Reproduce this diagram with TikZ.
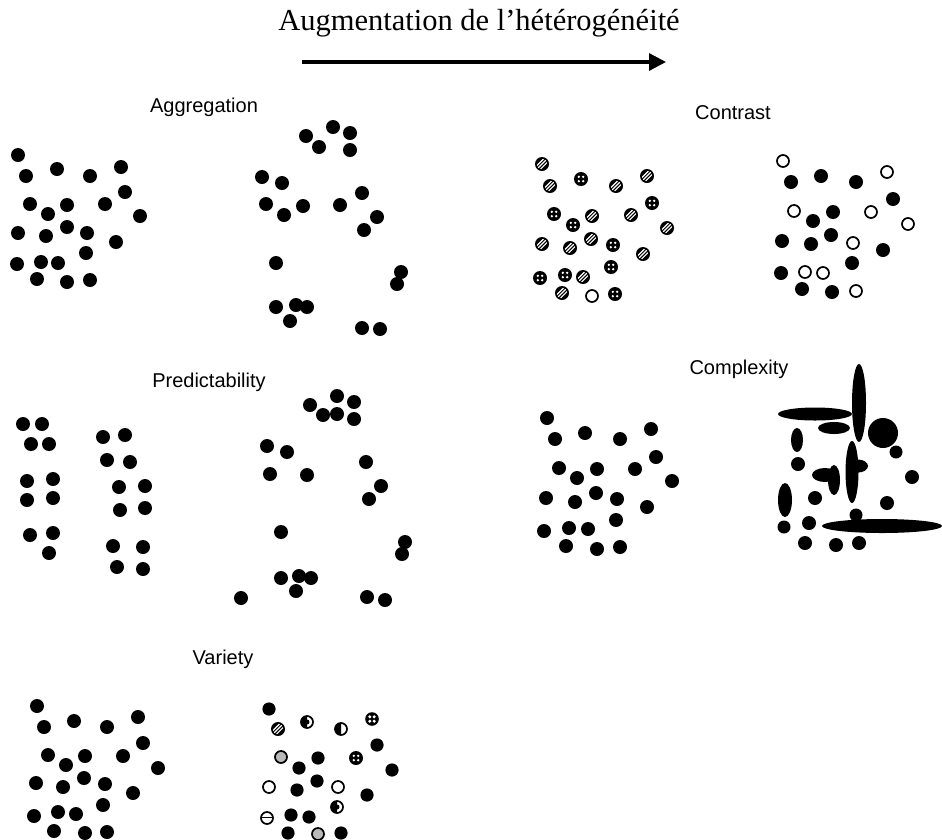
\documentclass[tikz,border=0pt]{standalone}
\usepackage{fontspec}
\setmainfont{Liberation Serif}
\newfontfamily\labelfont{Liberation Sans}
\usetikzlibrary{arrows.meta}
\tikzset{
  fdot/.pic={\fill[black] (0,0) circle (7pt);},
  sdot/.pic={\fill[black] (0,0) circle (6.6pt);},
  odot/.pic={\draw[black,line width=1.7pt,fill=white] (0,0) circle (6pt);},
  hdot/.pic={\fill[black] (0,0) circle (7pt);
    \begin{scope}\clip (0,0) circle (5.4pt);
      \foreach \o in {-1.8,0,1.8}{\draw[white,line width=1.2pt,shift={(\o pt,-\o pt)}] (-7pt,-7pt) -- (7pt,7pt);}
    \end{scope}},
  pdot/.pic={\fill[black] (0,0) circle (7pt);
    \foreach \a/\b in {-2.2/-2.2,2.2/-2.2,-2.2/2.2,2.2/2.2}{\fill[white] (\a pt,\b pt) circle (1.3pt);}},
  xdot/.pic={\fill[black] (0,0) circle (6.8pt);
    \foreach \a/\b in {-2.2/-2.2,2.2/-2.2,-2.2/2.2,2.2/2.2}{\fill[white] (\a pt,\b pt) circle (1.7pt);}},
  gdot/.pic={\draw[black,line width=1.7pt,fill=gray!55] (0,0) circle (6pt);},
  wdot/.pic={\draw[black,line width=1.7pt,fill=white] (0,0) circle (6pt);
    \fill[black] (0,0) -- (90:6pt) arc (90:270:6pt) -- cycle;
    \fill[black] (0,0) circle (2.5pt);},
  halfdot/.pic={\draw[black,line width=1.7pt,fill=white] (0,0) circle (6pt);
    \fill[black] (90:6pt) arc (90:270:6pt) -- cycle;},
  ldot/.pic={\draw[black,line width=1.7pt,fill=white] (0,0) circle (6pt);
    \draw[black,line width=1.4pt] (-5.5pt,0.8pt) -- (5.5pt,0.8pt);},
  lab/.style={font=\labelfont\fontsize{20}{22}\selectfont, inner sep=0pt},
  blob/.style={fill=black}
}
\begin{document}
\begin{tikzpicture}[x=1pt,y=-1pt]
\fill[white] (0,0) rectangle (942,839);
\useasboundingbox (0,0) rectangle (942,839);

% title and arrow
\node[font=\fontsize{30.5}{32}\selectfont, inner sep=0pt] (title) at (479,23) {Augmentation de l’hétérogénéité};
\coordinate (arrS) at (302,62);
\coordinate (arrE) at (666,62);
\draw[line width=3.2pt, -{Triangle[length=17pt,width=17pt]}] (arrS) -- (arrE);

% labels
\node[lab] (lagg) at (204,107) {Aggregation};
\node[lab] (lcon) at (733,113) {Contrast};
\node[lab] (lpre) at (209,382) {Predictability};
\node[lab] (lcom) at (739,369) {Complexity};
\node[lab] (lvar) at (223,659) {Variety};

% Aggregation left
\foreach \x/\y in {18/155,26/176,57/169,90/176,121/167,125/192,30/204,48/214,67/205,105/204,140/216,18/233,46/236,67/227,87/233,116/242,86/253,17/264,41/262,58/263,37/279,67/282,90/280}
  \pic at (\x,\y) {fdot};
% Aggregation right
\foreach \x/\y in {306/136,333/127,350/133,319/147,350/150,262/177,282/183,266/204,284/215,303/206,340/205,362/193,377/217,364/230,276/263,401/272,397/284,276/307,296/305,307/307,290/321,362/328,380/329}
  \pic at (\x,\y) {fdot};

% Contrast left
\foreach \x/\y in {542/164,550/186,616/186,647/176,592/216,631/215,667/228,542/244,570/248,591/239,643/254,583/277,562/293}
  \pic at (\x,\y) {hdot};
\foreach \x/\y in {581/179,652/203,554/214,573/225,613/245,611/267,540/278,565/275,615/294}
  \pic at (\x,\y) {pdot};
\pic at (592,296) {odot};

% Contrast right
\foreach \x/\y in {791/182,821/176,856/182,893/199,813/221,833/212,782/241,811/244,831/235,883/250,852/263,781/273,802/289,832/292}
  \pic at (\x,\y) {fdot};
\foreach \x/\y in {783/161,887/172,794/211,871/212,908/224,853/243,805/272,823/273,856/291}
  \pic at (\x,\y) {odot};

% Predictability left
\foreach \x/\y in {23/424,42/424,31/444,49/444,27/481,53/479,27/500,53/498,30/535,53/533,49/553,103/437,125/435,107/460,130/462,119/487,145/486,120/510,145/508,113/546,143/547,117/567,143/569}
  \pic at (\x,\y) {fdot};
% Predictability right
\foreach \x/\y in {310/405,337/396,354/402,323/415,337/414,354/419,267/446,287/452,270/474,307/475,366/462,381/486,369/499,281/532,405/542,402/554,281/578,299/576,311/578,296/591,241/598,367/597,385/600}
  \pic at (\x,\y) {fdot};

% Complexity left
\foreach \x/\y in {547/418,555/439,585/433,620/439,651/429,656/457,559/468,577/478,597/469,635/469,672/481,546/498,575/502,596/493,617/499,647/507,616/520,544/531,569/528,588/529,566/546,597/549,620/547}
  \pic at (\x,\y) {fdot};

% Complexity right
\begin{scope}
\clip (0,0) rectangle (942,839);
\fill[blob] (859,403) ellipse (7pt and 39pt);
\fill[blob] (815,414) ellipse (37pt and 6.5pt);
\fill[blob] (834,428) ellipse (16pt and 6pt);
\fill[blob] (883,433) circle (15pt);
\fill[blob] (896,452) circle (6.5pt);
\fill[blob] (797,440) ellipse (6pt and 12pt);
\fill[blob] (798,464) circle (7pt);
\fill[blob] (852,472) ellipse (6.5pt and 31pt);
\fill[blob] (825,475) ellipse (13pt and 7pt);
\fill[blob] (834,480) ellipse (6pt and 15pt);
\fill[blob] (858,466) ellipse (10pt and 6.5pt);
\fill[blob] (912,477) circle (7pt);
\fill[blob] (815,498) circle (7pt);
\fill[blob] (887,503) circle (7pt);
\fill[blob] (785,500) ellipse (7pt and 17pt);
\fill[blob] (784,527) circle (6.5pt);
\fill[blob] (809,523) circle (7pt);
\fill[blob] (882,526) ellipse (60pt and 7pt);
\fill[blob] (856,515) circle (6.5pt);
\fill[blob] (805,543) circle (7pt);
\fill[blob] (836,545) circle (7pt);
\fill[blob] (859,543) circle (7pt);
\end{scope}

% Variety left
\foreach \x/\y in {37/706,44/727,74/721,107/727,138/717,143/743,48/755,66/765,85/756,123/756,158/768,36/783,63/787,84/778,105/784,133/793,103/805,34/816,58/812,76/814,54/831,85/833,107/832}
  \pic at (\x,\y) {fdot};

% Variety right
\foreach \x/\y in {269/709,377/745,299/768,318/758,392/770,297/790,317/781,367/795,291/815,309/817,288/833,341/833}
  \pic at (\x,\y) {sdot};
\pic at (278,729) {hdot};
\pic at (307,722) {wdot};
\pic at (337,807) {wdot};
\pic at (341,729) {halfdot};
\pic at (372,719) {xdot};
\pic at (281,757) {gdot};
\pic at (318,834) {gdot};
\pic at (356,758) {pdot};
\pic at (269,787) {odot};
\pic at (338,787) {odot};
\pic at (267,818) {ldot};
\end{tikzpicture}
\end{document}
